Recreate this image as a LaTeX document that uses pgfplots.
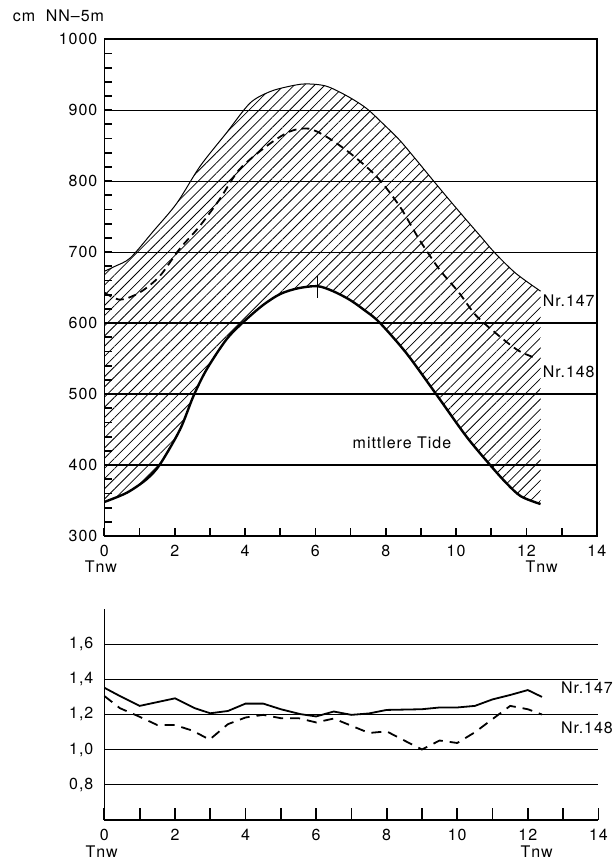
\documentclass[border=0pt]{standalone}
\usepackage{fontspec}
\setmainfont{TeX Gyre Heros}[LetterSpace=6]
\usepackage{pgfplots}
\pgfplotsset{compat=1.18}
\usepgfplotslibrary{fillbetween}
\usetikzlibrary{patterns.meta}

\pgfplotstableread{
x y
0 673
0.3 680
0.74 692
1.4 730
2.06 769
2.72 821
3.47 868
4.14 910
4.7 926
5.2 933
5.7 937
6.3 934
6.9 920
7.44 903
7.9 882
8.39 858
8.85 831
9.33 802
9.8 774
10.28 746
10.7 722
11.1 699
11.7 670
12.4 645
}\upperA

\pgfplotstableread{
x y
0 643
0.45 633
1.0 643
1.57 666
2.13 704
2.7 736
3.27 774
3.83 816
4.6 849
5.27 870
5.8 874
6.3 863
6.97 840
7.73 807
8.39 765
8.95 718
9.52 676
10.08 643
10.56 611
11.22 582
11.78 561
12.3 550
}\upperB

\pgfplotstableread{
x y
0 348
0.64 361
1.2 380
1.58 401
2.15 450
2.53 497
2.91 535
3.47 577
3.94 601
4.5 625
5.0 641
5.5 649
6.06 652
6.5 645
6.97 633
7.4 618
7.82 601
8.58 558
9.43 500
10.28 441
10.95 401
11.42 375
11.84 356
12.4 345
}\upperT

\pgfplotstableread{
x y
0 1.352
0.44 1.305
1.0 1.249
2.0 1.292
2.56 1.236
3.0 1.207
3.5 1.22
4.0 1.262
4.5 1.262
5.0 1.23
5.56 1.202
6.0 1.189
6.5 1.217
7.0 1.198
7.5 1.206
8.0 1.226
9.0 1.23
9.5 1.24
10.0 1.24
10.5 1.249
11.0 1.286
11.5 1.311
12.0 1.339
12.4 1.30
}\lowerA

\pgfplotstableread{
x y
0 1.305
0.44 1.236
1.0 1.187
1.5 1.14
2.0 1.14
2.5 1.108
2.98 1.057
3.5 1.145
4.0 1.183
4.5 1.198
5.0 1.179
5.5 1.179
6.0 1.155
6.5 1.177
7.0 1.136
7.5 1.095
8.0 1.104
8.5 1.052
9.0 1.001
9.5 1.052
10.0 1.038
10.5 1.099
11.0 1.174
11.5 1.249
12.0 1.23
12.4 1.20
}\lowerB

\begin{document}
\begin{tikzpicture}[font=\fontsize{8}{9.6}\selectfont]

\begin{axis}[
  at={(0pt,0pt)}, anchor=south west,
  scale only axis, width=246.2pt, height=248.4pt,
  xmin=0, xmax=14, ymin=300, ymax=1000,
  xtick={0,2,...,14}, minor xtick={1,3,...,13},
  ytick={300,400,...,1000}, minor ytick={320,340,...,980},
  tick pos=left,
  tick align=inside,
  major tick length=4pt, minor tick length=4pt,
  every tick/.style={draw=black, line width=0.9pt},
  ymajorgrids, grid style={black, line width=0.6pt},
  axis line style={black, line width=0.8pt},
  /pgf/number format/assume math mode=true,
  /pgf/number format/1000 sep={},
  xticklabel style={yshift=-1pt},
]
\addplot[name path=A, black, line width=0.5pt, smooth] table[x=x,y=y] {\upperA};
\addplot[name path=T, black, line width=1.2pt, smooth] table[x=x,y=y] {\upperT};
\addplot[pattern={Lines[angle=45, distance=3.6pt, line width=0.4pt]}, pattern color=black, draw=none]
  fill between[of=A and T];
\addplot[black, line width=0.9pt, dash pattern=on 4pt off 2.5pt, smooth] table[x=x,y=y] {\upperB};
\addplot[black, line width=0.6pt] coordinates {(6.06,636) (6.06,667)};
\end{axis}

\begin{axis}[
  at={(0pt,0pt)}, anchor=south west,
  scale only axis, width=246.2pt, height=248.4pt,
  xmin=0, xmax=14, ymin=300, ymax=1000,
  hide axis, clip=false,
]
\node[anchor=east, inner sep=0pt] at (axis cs:13.95,631) {Nr.147};
\node[anchor=east, inner sep=0pt] at (axis cs:13.95,531) {Nr.148};
\node at (axis cs:8.46,432) {mittlere Tide};
\node at (axis cs:-0.1,300) [yshift=-15.3pt] {Tnw};
\node at (axis cs:12.43,300) [yshift=-15.3pt] {Tnw};
\node at (axis cs:0,1000) [xshift=-23pt, yshift=11.7pt] {cm\ \ NN–5m};
\end{axis}

\begin{axis}[
  at={(0pt,-142pt)}, anchor=south west,
  scale only axis, width=247pt, height=105.5pt,
  xmin=0, xmax=14, ymin=0.6, ymax=1.8,
  clip=false,
  axis x line=bottom, axis y line=left,
  axis line style={-, black, line width=0.8pt},
  xtick={0,2,...,14}, minor xtick={1,3,...,13},
  tick align=inside,
  major tick length=6pt, minor tick length=6pt,
  every tick/.style={draw=black, line width=0.9pt},
  ytick={0.8,1.0,1.2,1.4,1.6},
  yticklabels={{0,8},{1,0},{1,2},{1,4},{1,6}},
  y tick style={draw=none},
  ymajorgrids, grid style={black, line width=0.6pt},
  /pgf/number format/assume math mode=true,
  yticklabel style={xshift=-2pt},
  xticklabel style={yshift=-1pt},
]
\addplot[black, line width=0.9pt] table[x=x,y=y] {\lowerA};
\addplot[black, line width=0.9pt, dash pattern=on 5pt off 3.5pt] table[x=x,y=y] {\lowerB};
\node[anchor=east, inner sep=0pt] at (axis cs:14.42,1.353) {Nr.147};
\node[anchor=east, inner sep=0pt] at (axis cs:14.42,1.125) {Nr.148};
\node at (axis cs:-0.08,0.6) [yshift=-15.8pt] {Tnw};
\node at (axis cs:12.25,0.6) [yshift=-15.8pt] {Tnw};
\end{axis}
\pgfresetboundingbox
\path[use as bounding box] (-52.2pt,-161pt) rectangle (255.4pt,268pt);
\end{tikzpicture}
\end{document}
